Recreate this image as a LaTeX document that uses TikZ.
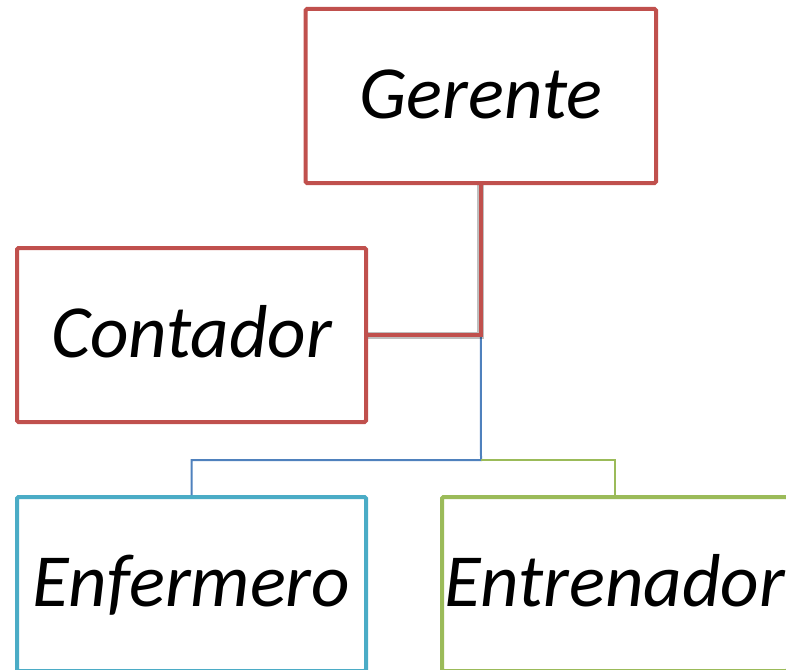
\documentclass[tikz,border=0pt]{standalone}
\usepackage{fontspec}
\setmainfont{Carlito}
\definecolor{ored}{HTML}{C0504D}
\definecolor{oblue}{HTML}{4F81BD}
\definecolor{ocyan}{HTML}{4BACC6}
\definecolor{ogreen}{HTML}{9BBB59}
\begin{document}
\begin{tikzpicture}[x=1pt,y=-1pt,
  box/.style={draw=#1, line width=4pt, rounded corners=1.5pt, fill=white,
    minimum height=174pt, inner sep=0pt, text height=44pt, text depth=0pt,
    font=\fontsize{75}{90}\selectfont\itshape},
  redline/.style={draw=ored, line width=4.5pt},
  shadowline/.style={draw=black, opacity=0.25, line width=7pt},
  blueline/.style={draw=oblue, line width=2pt},
  greenline/.style={draw=ogreen, line width=1.6pt}]
\useasboundingbox (0,0) rectangle (786,669);
\clip (0,0) rectangle (786,669);
\coordinate (hub) at (481,460);
\node[box=ored, minimum width=350.5pt] (ger) at (480.75,96) {Gerente};
\node[box=ored, minimum width=349pt] (con) at (191.5,335) {Contador};
\node[box=ocyan, minimum width=349pt] (enf) at (191.5,584) {Enfermero};
\node[box=ogreen, minimum width=346pt] (ent) at (615,584) {Entrenador};
\coordinate (j) at (ger.south |- con.east);
\draw[blueline] (j) -- (hub) -| (enf.north);
\draw[greenline] (hub) -| (ent.north);
\draw[shadowline, shift={(2pt,-3.5pt)}] (ger.south) |- (con.east);
\draw[redline] (ger.south) |- (con.east);
\end{tikzpicture}
\end{document}
